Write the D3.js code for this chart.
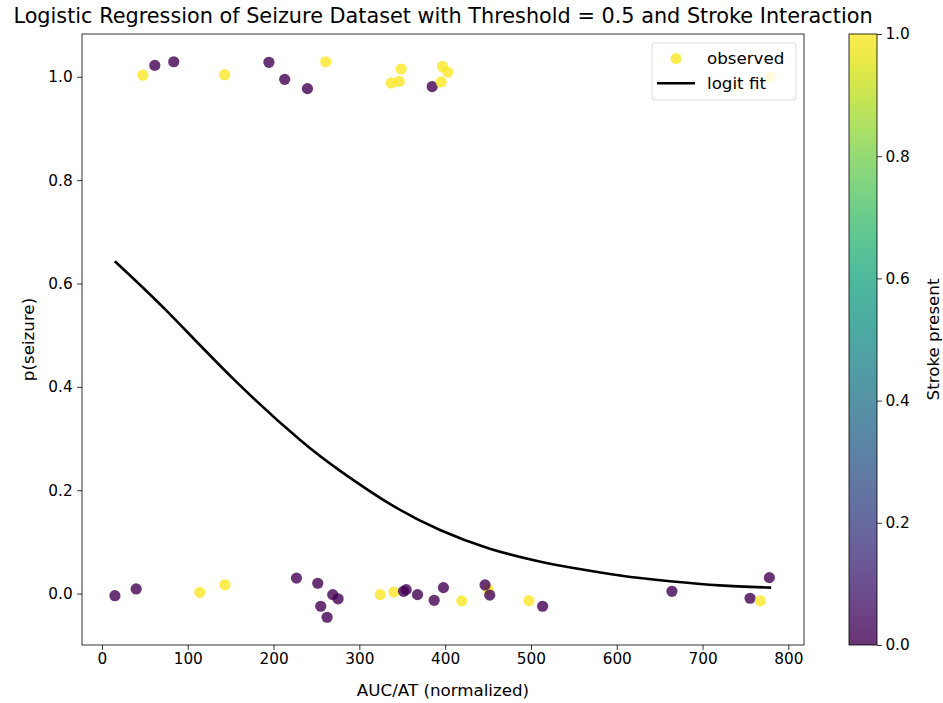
<!DOCTYPE html>
<html>
<head>
<meta charset="utf-8">
<script src="https://cdn.jsdelivr.net/npm/d3@7"></script>
<style>
  html, body { margin: 0; padding: 0; background: #fff; }
  svg { display: block; font-family: "DejaVu Sans", sans-serif; }
</style>
</head>
<body>
<svg id="chart" width="943" height="703"></svg>
<script>
// Observed cases: AUC/AT value, jittered outcome, stroke flag (0/1)
const obsX = [47.7, 61.6, 83.7, 143, 194.6, 213, 239.5, 260.8, 337.2, 346.5, 348.8, 384.9, 395.3, 396.9, 403.1, 739, 779,
              15.1, 39.9, 114, 143.4, 226.7, 251.5, 255, 262.4, 269, 275.2, 324.4, 340.3, 351.5, 354.6, 367.8, 387.2, 398,
              419.4, 450.4, 446.5, 452, 497.7, 513.6, 664.3, 755.4, 767.4, 777.9];
const obsY = [1.003, 1.022, 1.029, 1.004, 1.028, 0.995, 0.977, 1.029, 0.988, 0.991, 1.015, 0.981, 0.990, 1.020, 1.009, 0.982, 0.999,
              -0.004, 0.009, 0.0025, 0.017, 0.030, 0.020, -0.0245, -0.0457, -0.002, -0.010, -0.002, 0.003, 0.0045, 0.0077, -0.002, -0.013, 0.0116,
              -0.014, 0.0077, 0.0168, -0.003, -0.0135, -0.0245, 0.0045, -0.009, -0.014, 0.031];
const stroke = [1, 0, 0, 1, 0, 0, 0, 1, 1, 1, 1, 0, 1, 1, 1, 1, 1,
                0, 0, 1, 1, 0, 0, 0, 0, 0, 0, 1, 1, 0, 0, 0, 0, 0,
                1, 1, 0, 0, 1, 0, 0, 0, 1, 0];

// Fitted probability curve
const fitX = [15, 76, 154, 231, 278, 336, 394, 452, 510, 545, 604, 662, 720, 780];
const fitP = [0.643, 0.546, 0.414, 0.297, 0.237, 0.173, 0.123, 0.087, 0.062, 0.051, 0.035, 0.024, 0.016, 0.0116];

const xTicks = [0, 100, 200, 300, 400, 500, 600, 700, 800];
const yTicks = [0.0, 0.2, 0.4, 0.6, 0.8, 1.0];
const cbTicks = [0.0, 0.2, 0.4, 0.6, 0.8, 1.0];

const svg = d3.select("#chart");
const plot = { left: 82, right: 804, top: 34, bottom: 645 };
const cb = { left: 849, right: 877, top: 34, bottom: 645 };

function padded(ext) {
  const r = ext[1] - ext[0];
  return [ext[0] - 0.05 * r, ext[1] + 0.05 * r];
}
const allX = obsX.concat(fitX), allY = obsY.concat(fitP);
const x = d3.scaleLinear().domain(padded(d3.extent(allX))).range([plot.left, plot.right]);
const y = d3.scaleLinear().domain(padded(d3.extent(allY))).range([plot.bottom, plot.top]);

const points = obsX.map((v, i) => ({ x: v, y: obsY[i], s: stroke[i] }));
const fit = fitX.map((v, i) => ({ x: v, p: fitP[i] }));

// Scatter of observed outcomes coloured by stroke
svg.append("g").selectAll("circle").data(points).join("circle")
  .attr("cx", d => x(d.x)).attr("cy", d => y(d.y)).attr("r", 5.6)
  .attr("fill", d => d3.interpolateViridis(d.s)).attr("fill-opacity", 0.8);

// Logistic fit curve
svg.append("path").datum(fit)
  .attr("d", d3.line().x(d => x(d.x)).y(d => y(d.p)).curve(d3.curveNatural))
  .attr("fill", "none").attr("stroke", "#000").attr("stroke-width", 2.6);

// Axes
const tickFont = "15.3px";
const xAxis = svg.append("g").attr("transform", `translate(0,${plot.bottom})`)
  .call(d3.axisBottom(x).tickValues(xTicks).tickFormat(d3.format("d")).tickSize(4.9).tickPadding(3.5));
const yAxis = svg.append("g").attr("transform", `translate(${plot.left},0)`)
  .call(d3.axisLeft(y).tickValues(yTicks).tickFormat(d3.format(".1f")).tickSize(4.9).tickPadding(4.5));
[xAxis, yAxis].forEach(g => {
  g.select(".domain").remove();
  g.selectAll(".tick line").attr("stroke", "#000").attr("stroke-width", 0.8);
  g.selectAll(".tick text").attr("fill", "#000").style("font-size", tickFont).style("font-family", "DejaVu Sans");
});

// Frame
svg.append("rect").attr("x", plot.left).attr("y", plot.top)
  .attr("width", plot.right - plot.left).attr("height", plot.bottom - plot.top)
  .attr("fill", "none").attr("stroke", "#000").attr("stroke-width", 0.8);

// Legend
const lg = svg.append("g");
lg.append("rect").attr("x", 652).attr("y", 43).attr("width", 144).attr("height", 57).attr("rx", 3)
  .attr("fill", "#fff").attr("fill-opacity", 0.8).attr("stroke", "#d0d0d0").attr("stroke-width", 0.8);
lg.append("circle").attr("cx", 676).attr("cy", 58.5).attr("r", 5.6)
  .attr("fill", d3.interpolateViridis(1)).attr("fill-opacity", 0.8);
lg.append("line").attr("x1", 657).attr("x2", 695).attr("y1", 83.3).attr("y2", 83.3)
  .attr("stroke", "#000").attr("stroke-width", 2.6);
lg.append("text").attr("x", 707).attr("y", 64).text("observed").style("font-size", "16.7px");
lg.append("text").attr("x", 707).attr("y", 89).text("logit fit").style("font-size", "16.7px");

// Titles and axis labels
svg.append("text").attr("x", (plot.left + plot.right) / 2).attr("y", 23).attr("text-anchor", "middle")
  .style("font-size", "20.8px").text("Logistic Regression of Seizure Dataset with Threshold = 0.5 and Stroke Interaction");
svg.append("text").attr("x", (plot.left + plot.right) / 2).attr("y", 696).attr("text-anchor", "middle")
  .style("font-size", "16.7px").text("AUC/AT (normalized)");
svg.append("text").attr("transform", `translate(34,${(plot.top + plot.bottom) / 2}) rotate(-90)`)
  .attr("text-anchor", "middle").style("font-size", "16.7px").text("p(seizure)");

// Colour bar
const defs = svg.append("defs");
const grad = defs.append("linearGradient").attr("id", "viridis").attr("x1", 0).attr("y1", 1).attr("x2", 0).attr("y2", 0);
d3.range(0, 1.0001, 0.05).forEach(t => {
  grad.append("stop").attr("offset", t).attr("stop-color", d3.interpolateViridis(t));
});
svg.append("rect").attr("x", cb.left).attr("y", cb.top).attr("width", cb.right - cb.left)
  .attr("height", cb.bottom - cb.top).attr("fill", "url(#viridis)").attr("fill-opacity", 0.8);
svg.append("rect").attr("x", cb.left).attr("y", cb.top).attr("width", cb.right - cb.left)
  .attr("height", cb.bottom - cb.top).attr("fill", "none").attr("stroke", "#000").attr("stroke-width", 0.8);
const cbScale = d3.scaleLinear().domain([0, 1]).range([cb.bottom, cb.top]);
const cbAxis = svg.append("g").attr("transform", `translate(${cb.right},0)`)
  .call(d3.axisRight(cbScale).tickValues(cbTicks).tickFormat(d3.format(".1f")).tickSize(4.9).tickPadding(3.5));
cbAxis.select(".domain").remove();
cbAxis.selectAll(".tick line").attr("stroke", "#000").attr("stroke-width", 0.8);
cbAxis.selectAll(".tick text").attr("fill", "#000").style("font-size", tickFont).style("font-family", "DejaVu Sans");
svg.append("text").attr("transform", `translate(${939},${(cb.top + cb.bottom) / 2}) rotate(-90)`)
  .attr("text-anchor", "middle").style("font-size", "16.7px").text("Stroke present");
</script>
</body>
</html>
